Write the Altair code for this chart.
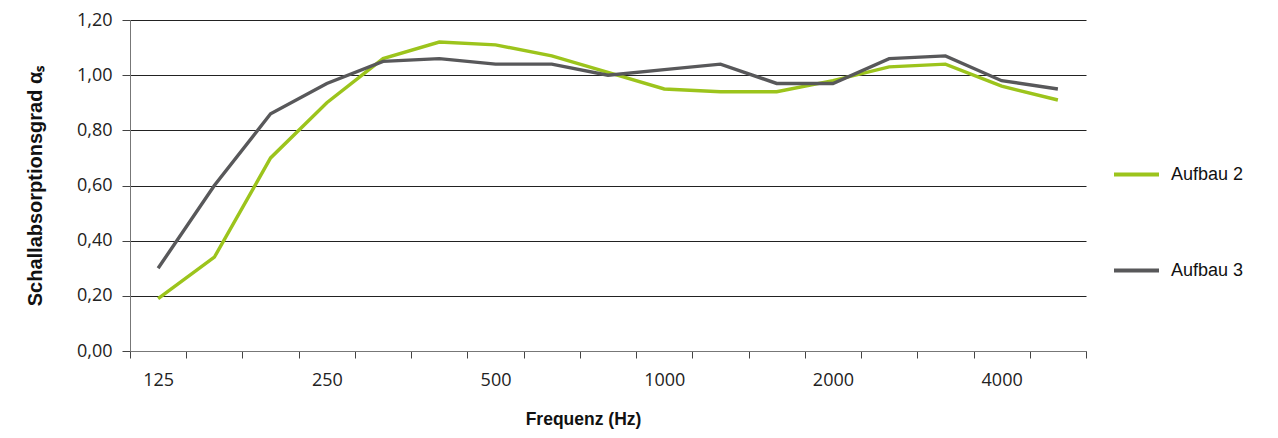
import altair as alt
import pandas as pd

freqs = ["125", "160", "200", "250", "315", "400", "500", "630", "800", "1000",
         "1250", "1600", "2000", "2500", "3150", "4000", "5000"]
aufbau2 = [0.19, 0.34, 0.70, 0.90, 1.06, 1.12, 1.11, 1.07, 1.01, 0.95,
           0.94, 0.94, 0.98, 1.03, 1.04, 0.96, 0.91]
aufbau3 = [0.30, 0.60, 0.86, 0.97, 1.05, 1.06, 1.04, 1.04, 1.00, 1.02,
           1.04, 0.97, 0.97, 1.06, 1.07, 0.98, 0.95]
series = ["Aufbau 2", "Aufbau 3"]
colors = ["#9cc41c", "#58585a"]
shown_labels = ["125", "250", "500", "1000", "2000", "4000"]
y_ticks = [0.0, 0.2, 0.4, 0.6, 0.8, 1.0, 1.2]

rows = []
for name, vals in zip(series, [aufbau2, aufbau3]):
    for f, v in zip(freqs, vals):
        rows.append({"Frequenz": f, "Wert": v, "Serie": name})
df = pd.DataFrame(rows)

label_test = " || ".join([f"datum.value == '{s}'" for s in shown_labels])

chart = alt.Chart(df).mark_line(strokeWidth=3.4).encode(
    x=alt.X("Frequenz:N", sort=freqs, bandPosition=0.5,
            scale=alt.Scale(type="band", domain=freqs, paddingInner=0, paddingOuter=0),
            axis=alt.Axis(title="Frequenz (Hz)", tickBand="extent", grid=False,
                          labelAngle=0, labelExpr=f"({label_test}) ? datum.value : ''",
                          tickSize=7, tickColor="#444", domainColor="#777",
                          labelFont="Open Sans", labelFontSize=18, labelColor="#222",
                          labelPadding=13,
                          titleFont="Liberation Sans", titleFontSize=17.5, titleFontWeight="bold",
                          titleColor="#111", titlePadding=21, titleX=453)),
    y=alt.Y("Wert:Q", scale=alt.Scale(domain=[0, 1.2], nice=False, zero=True),
            axis=alt.Axis(title="Schallabsorptionsgrad αₛ", values=y_ticks,
                          labelExpr="replace(format(datum.value, '.2f'), '.', ',')",
                          grid=True, gridColor="#222", gridWidth=1,
                          tickSize=8, tickColor="#444", domainColor="#777",
                          labelFont="Open Sans", labelFontSize=18, labelColor="#222",
                          labelPadding=10,
                          titleFont="Liberation Sans", titleFontSize=20, titleFontWeight="bold",
                          titleColor="#111", titlePadding=31)),
    color=alt.Color("Serie:N", scale=alt.Scale(domain=series, range=colors),
                    legend=alt.Legend(title=None, orient="none", legendX=982, legendY=130,
                                      symbolType="stroke", symbolSize=2025,
                                      symbolStrokeWidth=4, rowPadding=62,
                                      labelFont="Liberation Sans", labelFontSize=18,
                                      labelColor="#111", labelOffset=10)),
).properties(
    width=956, height=331,
    autosize=alt.AutoSizeParams(type="none"),
    padding={"left": 122, "top": 12, "right": 184, "bottom": 80},
).configure_view(stroke=None)

chart.save("out.html", embed_options={"renderer": "svg", "actions": False})
